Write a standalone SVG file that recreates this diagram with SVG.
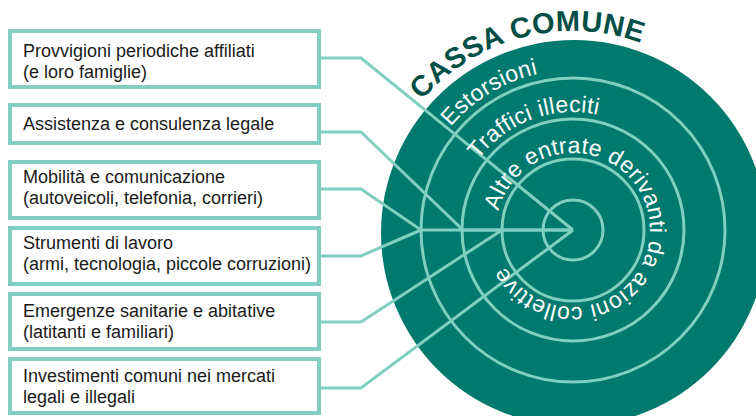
<svg xmlns="http://www.w3.org/2000/svg" width="756" height="416" viewBox="0 0 756 416">
<style>
.box{fill:#ffffff;stroke:#80cfc0;stroke-width:4}
.lbl{font-family:"Liberation Sans",Arial,sans-serif;font-size:18px;fill:#1a1a1a}
.ring{fill:none;stroke:#80cfc0;stroke-width:3}
.conn{fill:none;stroke:#80cfc0;stroke-width:3;stroke-linejoin:miter}
.arc{font-family:"Liberation Sans",Arial,sans-serif;font-size:23px;fill:#ffffff;letter-spacing:0.3px}
.title{font-family:"Liberation Sans",Arial,sans-serif;font-size:29px;font-weight:bold;fill:#004f46;letter-spacing:0.3px}
</style>
<defs>
<path id="pTitle" d="M 374 230 A 199 199 0 0 1 772 230"/>
<path id="pEst" d="M 413 230 A 160 160 0 0 1 733 230"/>
<path id="pTra" d="M 455 230 A 118 118 0 0 1 691 230"/>
<path id="pAlt" d="M 496 230 A 77 77 0 0 1 650 230 A 77 77 0 0 1 496 230"/>
</defs>
<g id="cassa">
<circle cx="574" cy="233" r="193" fill="#00796e"/>
<circle class="ring" cx="573" cy="230" r="152"/>
<circle class="ring" cx="573" cy="230" r="111"/>
<circle class="ring" cx="573" cy="230" r="71"/>
<circle class="ring" cx="573" cy="230" r="30"/>
</g>
<g id="connectors">
<polyline class="conn" points="321,58 361,58 573,230"/>
<polyline class="conn" points="321,132 361,132 463,230 573,230"/>
<polyline class="conn" points="321,189 361,189 421,230 573,230"/>
<polyline class="conn" points="321,256 361,256 421,230"/>
<polyline class="conn" points="321,322 361,322 502,230"/>
<polyline class="conn" points="321,388 361,388 573,230"/>
</g>
<g id="cassa-labels">
<text class="title"><textPath href="#pTitle" startOffset="141">CASSA COMUNE</textPath></text>
<text class="arc"><textPath href="#pEst" startOffset="112">Estorsioni</textPath></text>
<text class="arc"><textPath href="#pTra" startOffset="75">Traffici illeciti</textPath></text>
<text class="arc"><textPath href="#pAlt" startOffset="19">Altre entrate derivanti da azioni collettive</textPath></text>
</g>
<g id="box1">
<rect class="box" x="10" y="31" width="309" height="56"/>
<text class="lbl" x="23" y="57">Provvigioni periodiche affiliati</text>
<text class="lbl" x="23" y="78">(e loro famiglie)</text>
</g>
<g id="box2">
<rect class="box" x="10" y="105" width="309" height="38"/>
<text class="lbl" x="23" y="130">Assistenza e consulenza legale</text>
</g>
<g id="box3">
<rect class="box" x="10" y="162" width="309" height="56"/>
<text class="lbl" x="23" y="183">Mobilità e comunicazione</text>
<text class="lbl" x="23" y="204">(autoveicoli, telefonia, corrieri)</text>
</g>
<g id="box4">
<rect class="box" x="10" y="228" width="309" height="56"/>
<text class="lbl" x="23" y="249">Strumenti di lavoro</text>
<text class="lbl" x="23" y="270">(armi, tecnologia, piccole corruzioni)</text>
</g>
<g id="box5">
<rect class="box" x="10" y="294" width="309" height="55"/>
<text class="lbl" x="23" y="317">Emergenze sanitarie e abitative</text>
<text class="lbl" x="23" y="338">(latitanti e familiari)</text>
</g>
<g id="box6">
<rect class="box" x="10" y="359" width="309" height="54"/>
<text class="lbl" x="23" y="382">Investimenti comuni nei mercati</text>
<text class="lbl" x="23" y="403">legali e illegali</text>
</g>
</svg>
